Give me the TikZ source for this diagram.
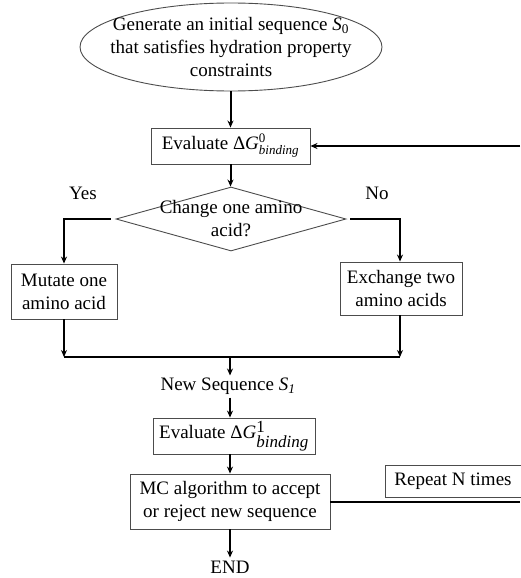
\documentclass[tikz,border=0pt]{standalone}
\usepackage{fontspec}
\setmainfont{Liberation Serif}
\usepackage{amsmath}
\usetikzlibrary{shapes.geometric,arrows.meta}
\newcommand{\dG}[3]{Δ\textit{G}$^{\text{\fontsize{#3}{#3}\selectfont #1}}_{\text{\fontsize{#3}{#3}\selectfont\itshape #2}}$}
\begin{document}
\begin{tikzpicture}[x=1pt,y=-1pt,
  every node/.style={font=\fontsize{19}{23}\selectfont, inner sep=0pt, align=center},
  box/.style={draw=black!70, line width=0.9pt},
  conn/.style={line width=2pt, -{Stealth[length=7pt,width=6pt]}},
  plain/.style={line width=2pt}]
\useasboundingbox (0,0) rectangle (520,578);
% start ellipse
\node[box, ellipse, minimum width=302, minimum height=88, inner xsep=-20pt, inner ysep=-8pt] (start) at (231,47)
  {Generate an initial sequence \textit{S}$_{\text{0}}$\\that satisfies hydration property\\constraints};
% evaluate 0
\node[box, minimum width=159, minimum height=36] (eval0) at (230.5,146) {Evaluate \dG{0}{binding}{13}};
% decision diamond
\node[diamond, draw=black!70, line width=0.9pt, minimum width=230, minimum height=64] (dia) at (231,219) {};
\node (diatext) at (231,219) {Change one amino\\acid?};
\node (yes) at (83,193) {Yes};
\node (no) at (377,193) {No};
% branches
\node[box, minimum width=106, minimum height=55] (mut) at (64,291.5) {Mutate one\\amino acid};
\node[box, minimum width=122, minimum height=53] (exc) at (401,288.5) {Exchange two\\amino acids};
\coordinate (mL) at (64,357);
\coordinate (mR) at (400,357);
\coordinate (mM) at (230,357);
\node (newseq) at (228,386) {New Sequence \textit{S}$_{\text{\itshape 1}}$};
\node[box, minimum width=162, minimum height=36] (eval1) at (234,436) {Evaluate \dG{1}{binding}{17}};
\node[box, minimum width=200, minimum height=55] (mc) at (230,501.5) {MC algorithm to accept\\or reject new sequence};
\node (end) at (230,567) {END};
\node[box, minimum width=136, minimum height=32] (rep) at (453,481) {Repeat N times};
\coordinate (loopTop) at (520,146);
\coordinate (loopBot) at (520,502);
% connectors
\draw[conn] (start.south -| eval0.north) -- (eval0.north);
\draw[conn] (loopTop) -- (eval0.east);
\draw[conn] (eval0.south) -- (eval0.south |- dia.north);
\draw[conn] ([xshift=-5pt]dia.west) -| (mut.north);
\draw[conn] ([xshift=4pt]dia.east) -| (exc.north -| mR);
\draw[conn] (mut.south) -- (mL);
\draw[conn] (exc.south -| mR) -- (mR);
\draw[plain] (mL) -- (mR);
\draw[conn, shorten >=2pt] (mM) -- (mM |- newseq.north);
\draw[conn, shorten <=3pt] (mM |- newseq.south) -- (mM |- eval1.north);
\draw[conn] (mM |- eval1.south) -- (mM |- mc.north);
\draw[conn, shorten >=3pt] (mc.south) -- (mc.south |- end.north);
\draw[plain] (mc.east |- loopBot) -- (loopBot);
\end{tikzpicture}
\end{document}
